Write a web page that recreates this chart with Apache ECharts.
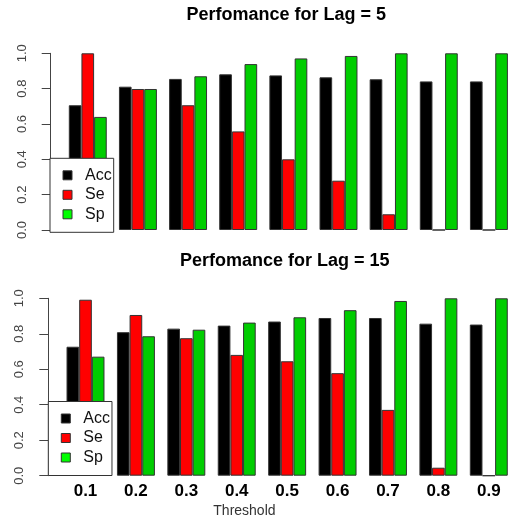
<!DOCTYPE html>
<html>
<head>
<meta charset="utf-8">
<script src="https://cdn.jsdelivr.net/npm/echarts@6/dist/echarts.min.js"></script>
<style>
html,body{margin:0;padding:0;background:#fff;}
#chart{width:514px;height:523px;}
</style>
</head>
<body>
<div id="chart"></div>
<script>
const categories = ['0.1','0.2','0.3','0.4','0.5','0.6','0.7','0.8','0.9'];
const yTicks = [0, 0.2, 0.4, 0.6, 0.8, 1.0];
const seriesNames = ['Acc','Se','Sp'];
// Lag = 5
const acc5 = [0.706, 0.811, 0.855, 0.881, 0.875, 0.864, 0.853, 0.841, 0.841];
const se5  = [1.000, 0.798, 0.706, 0.558, 0.400, 0.279, 0.089, 0.000, 0.000];
const sp5  = [0.640, 0.798, 0.870, 0.939, 0.971, 0.985, 1.000, 1.000, 1.000];
// Lag = 15
const acc15 = [0.727, 0.809, 0.829, 0.846, 0.869, 0.889, 0.889, 0.857, 0.852];
const se15  = [0.992, 0.906, 0.775, 0.681, 0.645, 0.578, 0.371, 0.045, 0.000];
const sp15  = [0.671, 0.786, 0.823, 0.863, 0.893, 0.933, 0.985, 1.000, 1.000];

const barColors = ['#000000', '#ff0000', '#00cd00'];
const legendColors = ['#000000', '#ff0000', '#00ff00'];
const FONT = 'Liberation Sans, Arial, Helvetica, sans-serif';

const chart = echarts.init(document.getElementById('chart'), null, {renderer: 'canvas'});

function barSeries(name, data, idx, colorIdx) {
  return {
    type: 'bar', name: name, data: data,
    xAxisIndex: idx, yAxisIndex: idx,
    barWidth: 12.65, barGap: '0%',
    itemStyle: {color: barColors[colorIdx], borderColor: '#333', borderWidth: 1},
    emphasis: {disabled: true},
    animation: false
  };
}

function yAxis(idx) {
  return {
    type: 'value', gridIndex: idx, min: 0, max: 1, interval: 0.2,
    offset: 12,
    splitLine: {show: false},
    axisLine: {show: true, lineStyle: {color: '#444', width: 1}},
    axisTick: {show: true, length: 9, lineStyle: {color: '#444', width: 1}},
    axisLabel: {
      rotate: 90, margin: 22, fontSize: 13, color: '#444', fontFamily: FONT,
      formatter: v => yTicks.includes(+v.toFixed(1)) ? v.toFixed(1) : ''
    }
  };
}

function legend(idx, left, top) {
  return {
    orient: 'vertical', left: left, top: top,
    backgroundColor: '#fff', borderColor: '#333', borderWidth: 1, borderRadius: 0,
    padding: [9, 2, 10, 12.5],
    itemWidth: 9, itemHeight: 9, itemGap: 3.5,
    selectedMode: false,
    textStyle: {fontSize: 16, lineHeight: 16, color: '#111', fontFamily: FONT, padding: [0, 0, 0, 8]},
    data: seriesNames.map((n, i) => ({name: n, icon: 'rect', itemStyle: {color: legendColors[i], borderColor: '#333', borderWidth: 1}}))
  };
}

const option = {
  backgroundColor: '#fff',
  animation: false,
  title: [
    {text: 'Perfomance for Lag = 5', left: 186.5, top: 6.5, padding: 0,
     textStyle: {fontSize: 18, fontWeight: 'bold', color: '#000', fontFamily: FONT}},
    {text: 'Perfomance for Lag = 15', left: 180, top: 252, padding: 0,
     textStyle: {fontSize: 18, fontWeight: 'bold', color: '#000', fontFamily: FONT}},
    {text: 'Threshold', left: 213.3, top: 504, padding: 0,
     textStyle: {fontSize: 14, fontWeight: 'normal', color: '#333', fontFamily: FONT}}
  ],
  grid: [
    {left: 62.7, width: 455.4, top: 53.3, height: 176.7},
    {left: 60.3, width: 455.4, top: 298.3, height: 177.4}
  ],
  xAxis: [
    {type: 'category', gridIndex: 0, data: categories,
     axisLine: {show: false}, axisTick: {show: false}, axisLabel: {show: false}},
    {type: 'category', gridIndex: 1, data: categories,
     axisLine: {show: false}, axisTick: {show: false},
     axisLabel: {show: true, margin: 7, fontSize: 17, fontWeight: 'bold', color: '#000', fontFamily: FONT}}
  ],
  yAxis: [yAxis(0), yAxis(1)],
  legend: [legend(0, 50, 158.3), legend(1, 48.3, 401.5)],
  series: [
    barSeries('Acc', acc5, 0, 0),
    barSeries('Se', se5, 0, 1),
    barSeries('Sp', sp5, 0, 2),
    barSeries('Acc', acc15, 1, 0),
    barSeries('Se', se15, 1, 1),
    barSeries('Sp', sp15, 1, 2)
  ]
};
chart.setOption(option);
</script>
</body>
</html>
